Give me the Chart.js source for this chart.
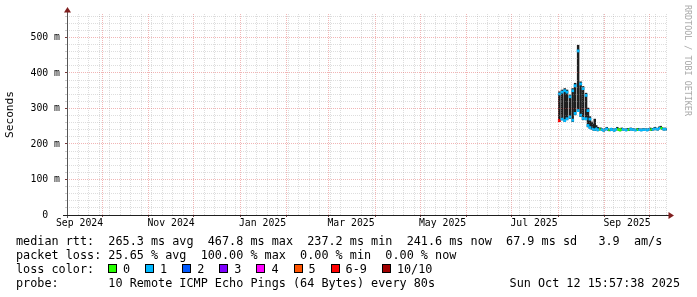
<!DOCTYPE html>
<html>
<head>
<meta charset="utf-8">
<title>SmokePing median rtt</title>
<script src="https://cdn.jsdelivr.net/npm/chart.js@4.4.1/dist/chart.umd.min.js"></script>
<style>
  html, body { margin:0; padding:0; background:#fff; }
  #wrap { position:relative; width:697px; height:297px; overflow:hidden; background:#fff; }
  #c { position:absolute; left:0; top:0; }
  .mono { position:absolute; font-family:'DejaVu Sans Mono', monospace; color:#000; white-space:pre; font-size:11.8px; line-height:14px; }
  #stats { left:16px; top:234px; }
  #losstitle { left:16px; top:262px; }
  #probe { left:16px; top:276px; }
  #date { right:17px; top:276px; }
  .box { position:absolute; top:264px; width:9px; height:9px; box-sizing:border-box; border:1px solid #000; }
  #wm { position:absolute; left:693px; top:5px; transform-origin:0 0; transform:rotate(90deg);
        font-family:'DejaVu Sans Mono', monospace; font-size:8.4px; line-height:10px; color:#a8a8a8; white-space:pre; }
</style>
</head>
<body>
<div id="wrap">
  <canvas id="c" width="697" height="297" style="width:697px;height:297px"></canvas>
  <div id="stats" class="mono">median rtt:  265.3 ms avg  467.8 ms max  237.2 ms min  241.6 ms now  67.9 ms sd   3.9  am/s
packet loss: 25.65 % avg  100.00 % max  0.00 % min  0.00 % now</div>
  <div id="losstitle" class="mono">loss color:</div>
  <div id="probe" class="mono">probe:       10 Remote ICMP Echo Pings (64 Bytes) every 80s</div>
  <div id="date" class="mono">Sun Oct 12 15:57:38 2025</div>
  <div id="wm">RRDTOOL / TOBI OETIKER</div>
</div>
<script>
// ---------- time window ----------
const windowStart = '2024-09-07T15:57:38';
const windowEnd   = '2025-10-12T15:57:38';

// ---------- x tick labels (centred mid-month, every 2 months) ----------
const xTickDates  = ['2024-09-16T00:00','2024-11-16T00:00','2025-01-16T00:00','2025-03-16T00:00','2025-05-16T00:00','2025-07-16T00:00','2025-09-16T00:00'];
const xTickLabels = ['Sep 2024','Nov 2024','Jan 2025','Mar 2025','May 2025','Jul 2025','Sep 2025'];

// ---------- y tick labels (ms) ----------
const yTickValues = [0, 100, 200, 300, 400, 500];
const yTickLabels = ['0  ', '100 m', '200 m', '300 m', '400 m', '500 m'];

// ---------- loss legend ----------
const lossLabels = ['0','1','2','3','4','5','6-9','10/10'];
const lossColors = ['#26ff00','#00b8ff','#0059ff','#7e00ff','#ff00ff','#ff5500','#ff0000','#a10000'];

// ---------- unstable period (Aug 2025): smoke range and medians, ms ----------
const spikeDates = ['2025-08-01T21:00','2025-08-03T16:00','2025-08-05T12:00','2025-08-07T00:00','2025-08-09T00:00','2025-08-10T19:00','2025-08-12T10:00','2025-08-14T10:00','2025-08-16T02:00','2025-08-17T17:00','2025-08-19T17:00','2025-08-21T00:00','2025-08-22T07:00'];
const spikeMin     = [263, 268, 263, 268, 272, 263, 282, 291, 277, 268, 268, 248, 244];
const spikeMax     = [347, 352, 356, 352, 338, 356, 371, 478, 375, 362, 343, 301, 277];
const spikeMedLow  = [266, 270, 266, 271, 276, 267, 286, 294, 281, 272, 271, 252, 246];
const spikeMedHigh = [341, 346, 350, 346, 333, 350, 364, 462, 369, 356, 337, 294, 270];
const spikeLossLow  = [7, 1, 1, 1, 1, 1, 1, 1, 1, 1, 1, 1, 1];
const spikeLossHigh = [1, 1, 1, 1, 1, 1, 1, 1, 1, 1, 1, 1, 1];

// ---------- stable period (daily), ms ----------
const flatDates = [
 '2025-08-23T12:00','2025-08-24T12:00','2025-08-25T12:00','2025-08-26T12:00','2025-08-27T12:00','2025-08-28T12:00','2025-08-29T12:00','2025-08-30T12:00','2025-08-31T12:00',
 '2025-09-01T12:00','2025-09-02T12:00','2025-09-03T12:00','2025-09-04T12:00','2025-09-05T12:00','2025-09-06T12:00','2025-09-07T12:00','2025-09-08T12:00','2025-09-09T12:00','2025-09-10T12:00',
 '2025-09-11T12:00','2025-09-12T12:00','2025-09-13T12:00','2025-09-14T12:00','2025-09-15T12:00','2025-09-16T12:00','2025-09-17T12:00','2025-09-18T12:00','2025-09-19T12:00','2025-09-20T12:00',
 '2025-09-21T12:00','2025-09-22T12:00','2025-09-23T12:00','2025-09-24T12:00','2025-09-25T12:00','2025-09-26T12:00','2025-09-27T12:00','2025-09-28T12:00','2025-09-29T12:00','2025-09-30T12:00',
 '2025-10-01T12:00','2025-10-02T12:00','2025-10-03T12:00','2025-10-04T12:00','2025-10-05T12:00','2025-10-06T12:00','2025-10-07T12:00','2025-10-08T12:00','2025-10-09T12:00','2025-10-10T12:00','2025-10-11T12:00','2025-10-12T12:00'];
const flatMed = [244,241,240,243,239,241,242,240,238,
 241,243,240,239,242,240,238,241,243,240, 239,242,241,240,239,241,240,242,241,240, 239,240,241,240,239,240,241,240,239,241,
 242,240,241,243,242,241,244,246,243,241,242,241];
const flatMin = [241,239,238,241,237,239,240,238,236,
 239,241,238,237,240,238,236,239,241,238, 237,240,239,238,237,239,238,240,239,238, 237,238,239,238,237,238,239,238,237,239,
 240,238,239,241,240,239,242,244,241,239,240,239];
const flatMax = [262,256,270,252,247,245,245,243,241,
 244,247,243,241,244,243,241,244,247,243, 242,245,243,242,242,244,243,245,243,243, 241,243,244,242,242,243,243,243,241,244,
 245,243,244,247,245,244,248,250,246,244,245,244];
const flatLoss = [1,1,1,1,1,0,1,1,1,
 1,1,0,1,1,1,1,1,0,0, 0,1,1,1,1,0,1,1,1,1, 1,0,1,1,1,1,1,1,1,1,
 0,1,1,1,1,1,1,0,1,1,1,1];

// ---------- helpers ----------
const DAY = 86400000;
const T0 = Date.parse(windowStart + 'Z');
const T1 = Date.parse(windowEnd + 'Z');
const toX = s => (Date.parse(s + 'Z') - T0) / DAY;
const lossIdx = n => (n <= 5 ? n : (n < 10 ? 6 : 7));
const key = v => v.toFixed(4);

// smoke bars
const smokeData = spikeDates.map((d, i) => ({x: toX(d), y: [spikeMin[i], spikeMax[i]]}))
  .concat(flatDates.map((d, i) => ({x: toX(d), y: [flatMin[i], flatMax[i]]})));

// median points
const medData = [], medLoss = [], medSpike = [];
spikeDates.forEach((d, i) => {
  medData.push({x: toX(d), y: spikeMedLow[i]});  medLoss.push(spikeLossLow[i]);  medSpike.push(true);
  medData.push({x: toX(d), y: spikeMedHigh[i]}); medLoss.push(spikeLossHigh[i]); medSpike.push(true);
});
flatDates.forEach((d, i) => {
  medData.push({x: toX(d), y: flatMed[i]}); medLoss.push(flatLoss[i]); medSpike.push(false);
});

// x grid: weekly (Sunday) minor, monthly major, plus label positions
const xKinds = new Map();
const xTickVals = [];
for (let t = Date.UTC(2024, 8, 8); t <= T1; t += 7 * DAY) {
  const v = (t - T0) / DAY; if (v >= 0 && v <= 400) { xKinds.set(key(v), 'minor'); xTickVals.push(v); }
}
for (let m = 0; m < 14; m++) {
  const t = Date.UTC(2024, 9 + m, 1); const v = (t - T0) / DAY;
  if (v >= 0 && v <= 400) { xKinds.set(key(v), 'major'); xTickVals.push(v); }
}
const xLabelMap = new Map();
xTickDates.forEach((d, i) => { const v = toX(d); xLabelMap.set(key(v), xTickLabels[i]); xKinds.set(key(v), 'label'); xTickVals.push(v); });
const xTicksSorted = Array.from(new Set(xTickVals.map(key))).map(Number).sort((a, b) => a - b);

const yLabelMap = new Map(yTickValues.map((v, i) => [v, yTickLabels[i]]));
const yMinor = [];
for (let v = 0; v <= 560; v += 20) yMinor.push(v);

const MINOR = 'rgba(150,150,150,0.32)';
const MAJOR = 'rgba(222,79,79,0.42)';

const axesPlugin = {
  id: 'axesArrows',
  afterDraw(chart) {
    const {ctx, chartArea: a} = chart;
    ctx.save();
    ctx.lineWidth = 1;
    ctx.strokeStyle = '#555';
    ctx.beginPath(); ctx.moveTo(a.left + 0.5, a.bottom + 3); ctx.lineTo(a.left + 0.5, a.top - 3); ctx.stroke();
    ctx.strokeStyle = '#1f1f1f';
    ctx.beginPath(); ctx.moveTo(a.left - 4, a.bottom + 0.5); ctx.lineTo(a.right + 2, a.bottom + 0.5); ctx.stroke();
    ctx.fillStyle = '#801f1f';
    ctx.beginPath(); ctx.moveTo(a.left + 0.5, a.top - 7); ctx.lineTo(a.left - 3, a.top - 1.5); ctx.lineTo(a.left + 4, a.top - 1.5); ctx.closePath(); ctx.fill();
    ctx.beginPath(); ctx.moveTo(a.right + 7, a.bottom + 0.5); ctx.lineTo(a.right + 1.5, a.bottom - 3); ctx.lineTo(a.right + 1.5, a.bottom + 4); ctx.closePath(); ctx.fill();
    ctx.restore();
  }
};

Chart.defaults.font.family = "'DejaVu Sans Mono', monospace";
Chart.defaults.color = '#000';

new Chart(document.getElementById('c'), {
  type: 'bar',
  data: {
    datasets: [
      {
        type: 'line',
        label: 'median rtt',
        data: medData,
        order: 0,
        borderWidth: 2.5,
        borderColor: lossColors[1],
        pointStyle: 'rect',
        pointRadius: c => (medSpike[c.dataIndex] ? 2 : 0),
        pointBorderWidth: 0,
        pointBackgroundColor: c => lossColors[lossIdx(medLoss[c.dataIndex])],
        segment: {
          borderColor: c => (medSpike[c.p0DataIndex] || medSpike[c.p1DataIndex]) ? 'rgba(0,0,0,0)' : lossColors[lossIdx(medLoss[c.p0DataIndex])]
        },
        tension: 0
      },
      {
        type: 'bar',
        label: 'smoke',
        data: smokeData,
        order: 1,
        backgroundColor: '#1e1e1e',
        borderWidth: 0,
        barThickness: 1.8
      }
    ]
  },
  options: {
    responsive: false,
    animation: false,
    layout: { padding: { top: 14, right: 30, bottom: 62, left: 0 } },
    plugins: { legend: { display: false }, tooltip: { enabled: false } },
    scales: {
      x: {
        type: 'linear',
        min: 0, max: 400,
        offset: false,
        afterFit: s => { s.height = 20; },
        afterBuildTicks: s => { s.ticks = xTicksSorted.map(v => ({value: v})); },
        grid: {
          z: 1,
          offset: false,
          drawTicks: true,
          tickLength: 2,
          color: c => { const k = c.tick && xKinds.get(key(c.tick.value)); return k === 'major' ? MAJOR : (k === 'minor' ? MINOR : 'rgba(0,0,0,0)'); },
          lineWidth: c => { const k = c.tick && xKinds.get(key(c.tick.value)); return k === 'label' ? 0 : 1; },
          tickColor: c => { const k = c.tick && xKinds.get(key(c.tick.value)); return k === 'major' ? '#7a3a3a' : 'rgba(0,0,0,0)'; }
        },
        border: { display: false, dash: [1, 1] },
        ticks: {
          autoSkip: false, maxRotation: 0, minRotation: 0, padding: 1,
          font: { size: 9.8 },
          callback: v => xLabelMap.get(key(v)) || ''
        }
      },
      y: {
        type: 'linear',
        min: 0, max: 566,
        afterFit: s => { s.width = 67; },
        afterBuildTicks: s => { s.ticks = yMinor.map(v => ({value: v})); },
        grid: {
          z: 1,
          drawTicks: true,
          tickLength: 2,
          color: c => (c.tick && c.tick.value % 100 === 0) ? MAJOR : MINOR,
          tickColor: c => (c.tick && c.tick.value % 100 === 0) ? '#7a3a3a' : '#cccccc'
        },
        border: { display: false, dash: [1, 1] },
        ticks: {
          autoSkip: false,
          padding: 5,
          font: { size: 9.8 },
          callback: v => (yLabelMap.has(v) ? yLabelMap.get(v) : '')
        },
        title: {
          display: true,
          text: 'Seconds',
          font: { size: 11.2 },
          padding: { top: 3, bottom: 0 }
        }
      }
    }
  },
  plugins: [axesPlugin]
});

// loss colour legend boxes
(function () {
  const wrap = document.getElementById('wrap');
  let x = 108;
  lossLabels.forEach((lab, i) => {
    const b = document.createElement('div');
    b.className = 'box'; b.style.left = x + 'px'; b.style.background = lossColors[i];
    wrap.appendChild(b);
    const t = document.createElement('div');
    t.className = 'mono'; t.style.left = (x + 15) + 'px'; t.style.top = '262px'; t.textContent = lab;
    wrap.appendChild(t);
    x += 15 + lab.length * 7.1 + 15;
  });
})();
</script>
</body>
</html>
